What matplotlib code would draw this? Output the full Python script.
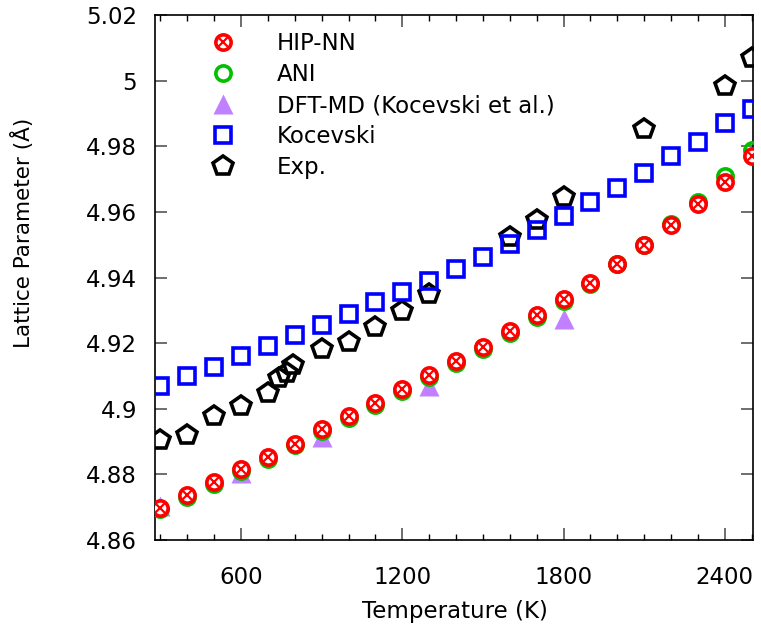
import matplotlib
matplotlib.use("Agg")
import matplotlib.pyplot as plt
from matplotlib.legend_handler import HandlerTuple
from matplotlib.ticker import MultipleLocator, FixedLocator

# temperatures (K) for the simulation series
temps = [300, 400, 500, 600, 700, 800, 900, 1000, 1100, 1200, 1300, 1400,
         1500, 1600, 1700, 1800, 1900, 2000, 2100, 2200, 2300, 2400, 2500]

hipnn = [4.8698, 4.8737, 4.8777, 4.8816, 4.8853, 4.8893, 4.8938, 4.8978,
         4.9018, 4.9060, 4.9103, 4.9146, 4.9188, 4.9237, 4.9286, 4.9334,
         4.9383, 4.9441, 4.9499, 4.9560, 4.9624, 4.9692, 4.9770]

ani = [4.8693, 4.8732, 4.8772, 4.8811, 4.8848, 4.8888, 4.8932, 4.8972,
       4.9012, 4.9055, 4.9098, 4.9141, 4.9183, 4.9232, 4.9281, 4.9330,
       4.9380, 4.9440, 4.9500, 4.9563, 4.9630, 4.9710, 4.9790]

dft_T = [300, 600, 900, 1300, 1800]
dft = [4.8705, 4.8805, 4.8913, 4.9068, 4.9275]

kocevski = [4.9069, 4.9100, 4.9127, 4.9160, 4.9191, 4.9225, 4.9255, 4.9289,
            4.9325, 4.9357, 4.9390, 4.9427, 4.9464, 4.9503, 4.9546, 4.9589,
            4.9630, 4.9674, 4.9720, 4.9770, 4.9814, 4.9870, 4.9915]

exp_T = [300, 400, 500, 600, 700, 740, 770, 795, 900, 1000, 1100, 1200,
         1300, 1600, 1700, 1800, 2100, 2400, 2500]
exp = [4.8905, 4.8920, 4.8977, 4.9007, 4.9047, 4.9094, 4.9108, 4.9132,
       4.9182, 4.9205, 4.9250, 4.9298, 4.9350, 4.9525, 4.9575, 4.9645,
       4.9852, 4.9985, 5.0068]

ytick_vals = [4.86, 4.88, 4.90, 4.92, 4.94, 4.96, 4.98, 5.00, 5.02]
ytick_labels = ["4.86", "4.88", "4.9", "4.92", "4.94", "4.96", "4.98", "5", "5.02"]

plt.rcParams['font.family'] = ['DejaVu Sans']
fig = plt.figure(figsize=(7.61, 6.33), dpi=100)
ax = fig.add_axes([0.2037, 0.147, 0.7858, 0.829])

red = '#ff0000'
green = '#00c000'
purple = '#c080ff'
blue = '#0000ff'

h_exp, = ax.plot(exp_T, exp, ls='none', marker='p', ms=15, mfc='none',
                 mec='black', mew=2.6, zorder=2)
h_koc, = ax.plot(temps, kocevski, ls='none', marker='s', ms=11.5, mfc='none',
                 mec=blue, mew=2.6, zorder=3)
h_dft, = ax.plot(dft_T, dft, ls='none', marker='^', ms=14, mfc=purple,
                 mec='none', zorder=4)
h_ani, = ax.plot(temps, ani, ls='none', marker='o', ms=11, mfc='none',
                 mec=green, mew=2.6, zorder=5)
h_hipo, = ax.plot(temps, hipnn, ls='none', marker='o', ms=11, mfc='white',
                  mec=red, mew=2.6, zorder=6)
h_hipx, = ax.plot(temps, hipnn, ls='none', marker='x', ms=7.5, mec=red,
                  mew=1.6, zorder=7)

ax.set_xlim(280, 2505)
ax.set_ylim(4.86, 5.02)
ax.xaxis.set_major_locator(FixedLocator([600, 1200, 1800, 2400]))
ax.xaxis.set_minor_locator(MultipleLocator(100))
ax.set_yticks(ytick_vals)
ax.set_yticklabels(ytick_labels)

ax.tick_params(which='both', direction='in', top=True, right=True,
               labelsize=16.5)
ax.tick_params(which='major', length=8.5, width=1.2, color='#555555')
ax.tick_params(which='minor', length=4, width=1.0, color='black')
ax.tick_params(axis='x', which='major', pad=19)
ax.tick_params(axis='y', which='major', pad=13)
for s in ax.spines.values():
    s.set_linewidth(1.2)

ax.set_xlabel('Temperature (K)', fontsize=16.5)
ax.xaxis.set_label_coords(0.502, -0.115)
ax.set_ylabel('Lattice Parameter (Å)', fontsize=15.5)
ax.yaxis.set_label_coords(-0.203, 0.585)

ax.legend([(h_hipo, h_hipx), h_ani, h_dft, h_koc, h_exp],
          ['HIP-NN', 'ANI', 'DFT-MD (Kocevski et al.)', 'Kocevski', 'Exp.'],
          handler_map={tuple: HandlerTuple(ndivide=1)},
          loc='upper left', bbox_to_anchor=(0.083, 0.968), frameon=False,
          fontsize=16.5, borderpad=0, borderaxespad=0, handlelength=1.6,
          handletextpad=1.56, labelspacing=0.35)

fig.savefig('out.png', dpi=100)
